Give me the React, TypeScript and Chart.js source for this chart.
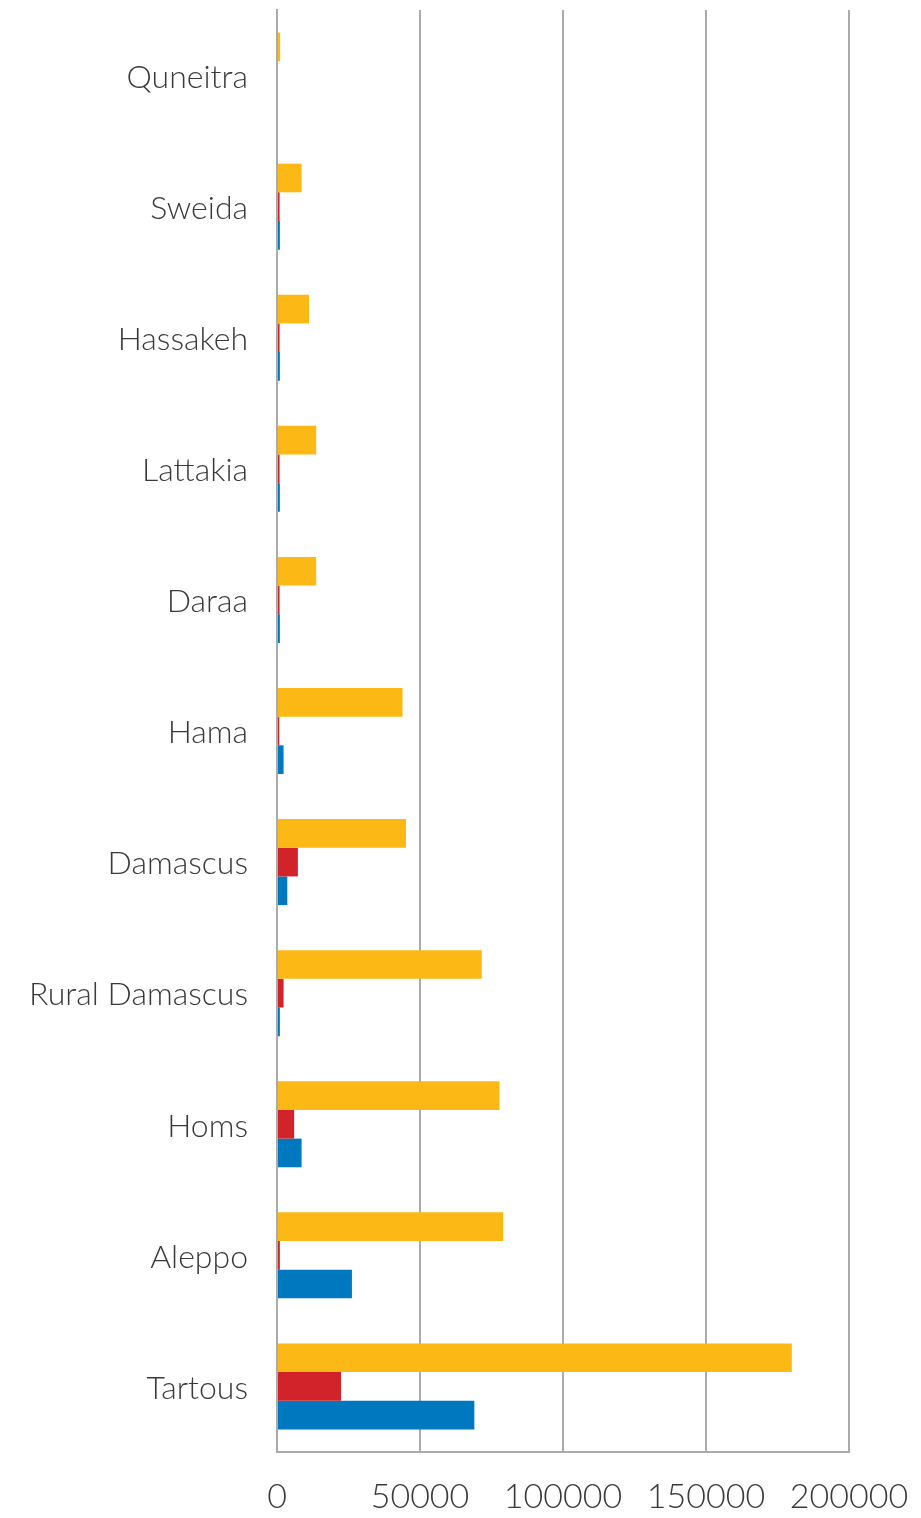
import React, { useEffect, useRef } from "react";
import { Chart, registerables } from "chart.js";

Chart.register(...registerables);

const categories = [
  "Quneitra",
  "Sweida",
  "Hassakeh",
  "Lattakia",
  "Daraa",
  "Hama",
  "Damascus",
  "Rural Damascus",
  "Homs",
  "Aleppo",
  "Tartous",
];

const seriesYellow = [1100, 8600, 11200, 13700, 13700, 43900, 45100, 71600, 77800, 79100, 180000];
const seriesRed = [0, 900, 900, 900, 900, 800, 7300, 2300, 6000, 1000, 22400];
const seriesBlue = [0, 1000, 1000, 1000, 1000, 2300, 3600, 1000, 8600, 26200, 69000];

const xTicks = [0, 50000, 100000, 150000, 200000];

const FONT = "Lato, 'Open Sans', sans-serif";

export default function App() {
  const ref = useRef<HTMLCanvasElement | null>(null);

  useEffect(() => {
    if (!ref.current) return;
    const chart = new Chart(ref.current, {
      type: "bar",
      data: {
        labels: categories,
        datasets: [
          { label: "Series 1", data: seriesYellow, backgroundColor: "#FCB814", borderWidth: 0 },
          { label: "Series 2", data: seriesRed, backgroundColor: "#D2232A", borderWidth: 0 },
          { label: "Series 3", data: seriesBlue, backgroundColor: "#0078BF", borderWidth: 0 },
        ],
      },
      options: {
        indexAxis: "y",
        animation: false,
        responsive: false,
        maintainAspectRatio: false,
        datasets: { bar: { categoryPercentage: 0.656, barPercentage: 1.0 } },
        layout: { padding: { top: 2, right: 64, left: 0, bottom: 0 } },
        plugins: { legend: { display: false }, tooltip: { enabled: false } },
        scales: {
          x: {
            min: 0,
            max: 200000,
            afterBuildTicks: (scale: any) => {
              scale.ticks = xTicks.map((v) => ({ value: v }));
            },
            afterFit: (scale: any) => {
              scale.height = 66;
              scale.paddingLeft = 0;
              scale.paddingRight = 0;
            },
            grid: { color: "#ababab", lineWidth: 2, drawTicks: false },
            border: { display: true, color: "#ababab", width: 2 },
            ticks: {
              padding: 25,
              color: "#3a3a3a",
              font: { family: FONT, size: 34, weight: 300 as any },
              maxRotation: 0,
              autoSkip: false,
              callback: (v: any) => String(v),
            },
          },
          y: {
            afterFit: (scale: any) => {
              scale.width = 269;
              scale.paddingTop = 0;
              scale.paddingBottom = 0;
            },
            grid: { display: false, drawTicks: false },
            border: { display: true, color: "#ababab", width: 2 },
            ticks: {
              padding: 29,
              labelOffset: 2,
              color: "#3a3a3a",
              font: { family: FONT, size: 32, weight: 300 as any },
              autoSkip: false,
            },
          },
        },
      },
    });
    return () => chart.destroy();
  }, []);

  return (
    <div style={{ width: 905, height: 1510 }}>
      <canvas ref={ref} width={905} height={1510} style={{ width: 905, height: 1510, display: "block" }} />
    </div>
  );
}
